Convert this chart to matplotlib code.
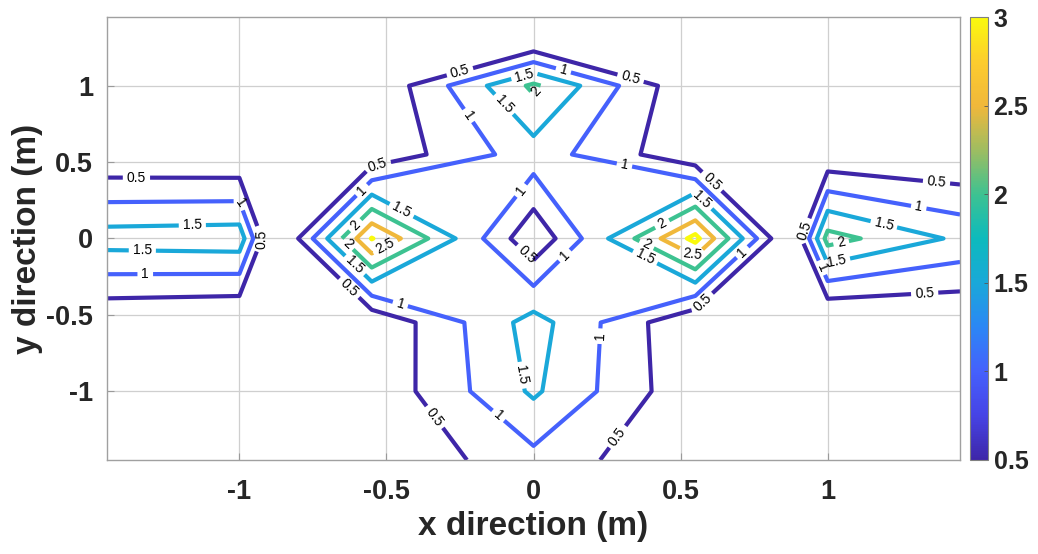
import numpy as np
import matplotlib
matplotlib.use("Agg")
import matplotlib.pyplot as plt
from matplotlib.colors import LinearSegmentedColormap, Normalize
from matplotlib.cm import ScalarMappable

# measurement grid (m)
x_pos = [-1.45, -1.0, -0.9, -0.82, -0.55, 0.0, 0.55, 0.82, 0.9, 1.0, 1.45]
y_pos = [-1.45, -1.0, -0.55, 0.0, 0.55, 1.0, 1.45]

# field values, one row per y position
row_y_m145 = [-0.3, -0.3, -0.3, -0.3, 0.0, 0.85, 0.0, -0.3, -0.3, -0.3, -0.3]
row_y_m100 = [-0.2, -0.2, -0.2, -0.2, 0.1, 1.58, 0.1, -0.2, -0.2, -0.2, -0.2]
row_y_m055 = [0.0, -0.1, -0.2, -0.2, 0.05, 1.71, 0.0, -0.2, -0.2, -0.17, -0.03]
row_y_000 = [1.74, 1.8, 0.1, 0.3, 3.03, 0.08, 3.16, 0.38, 0.3, 2.2, 1.4]
row_y_055 = [0.03, 0.0, -0.1, -0.1, 0.1, 1.28, 0.1, -0.1, -0.1, 0.07, 0.0]
row_y_100 = [-0.2, -0.2, -0.2, -0.2, 0.02, 2.1, 0.02, -0.2, -0.2, -0.2, -0.2]
row_y_145 = [-0.5, -0.5, -0.5, -0.5, -0.5, -1.1, -0.5, -0.5, -0.5, -0.5, -0.5]

levels = [0.5, 1, 1.5, 2, 2.5, 3]
ticks = [-1, -0.5, 0, 0.5, 1]

# spots where the contour values are written
label_spots = [
    (-0.25, 1.09), (0.33, 1.05), (0.10, 1.09), (-0.03, 1.06), (0.007, 0.97),
    (-0.105, 0.87), (-0.225, 0.80), (-0.53, 0.48), (-0.58, 0.31), (-0.45, 0.18),
    (-0.605, 0.085), (-0.63, -0.03), (-0.51, -0.03), (-0.61, -0.18), (-0.63, -0.33),
    (-0.45, -0.41), (-0.33, -1.16), (-0.12, -1.16), (-0.055, -0.90), (-0.04, 0.31),
    (-0.02, -0.10), (0.60, 0.36), (0.31, 0.49), (0.57, 0.25), (0.44, 0.085),
    (0.39, -0.02), (0.38, -0.12), (0.545, -0.08), (0.71, -0.09), (0.57, -0.41),
    (0.23, -0.64), (0.28, -1.29), (0.11, -0.12),
    (-1.35, 0.39), (-1.0, 0.23), (-1.16, 0.085), (-1.33, -0.08), (-1.32, -0.23),
    (-0.90, -0.02),
    (1.37, 0.37), (1.31, 0.21), (1.19, 0.085), (1.045, -0.02), (1.03, -0.14),
    (0.97, -0.20), (1.33, -0.37), (0.90, 0.065),
]

parula = LinearSegmentedColormap.from_list("parula", [
    (0.0, (0.2422, 0.1504, 0.6603)),
    (0.1, (0.2760, 0.2650, 0.9000)),
    (0.2, (0.2700, 0.3800, 0.9900)),
    (0.3, (0.1700, 0.5300, 0.9600)),
    (0.4, (0.1000, 0.6600, 0.8500)),
    (0.5, (0.0500, 0.7300, 0.7400)),
    (0.6, (0.2400, 0.7600, 0.5700)),
    (0.7, (0.6200, 0.7400, 0.3800)),
    (0.8, (0.9400, 0.7200, 0.2300)),
    (0.9, (0.9900, 0.8000, 0.1800)),
    (1.0, (0.9800, 0.9800, 0.0500)),
])
norm = Normalize(vmin=0.5, vmax=3)

X, Y = np.meshgrid(x_pos, y_pos)
Z = np.array([row_y_m145, row_y_m100, row_y_m055, row_y_000,
              row_y_055, row_y_100, row_y_145])

plt.rcParams['font.family'] = ['Liberation Sans', 'DejaVu Sans']

fig = plt.figure(figsize=(10.38, 5.54), dpi=100)
ax = fig.add_axes([0.1031, 0.1697, 0.8218, 0.7996])
ax.set_axisbelow(True)
ax.grid(True, color='#cfcfcf', linewidth=0.9)

cs = ax.contour(X, Y, Z, levels=levels, cmap=parula, norm=norm, linewidths=3)
ax.clabel(cs, manual=label_spots, inline=True, inline_spacing=4,
          fmt='%g', fontsize=10, colors='k')

ax.set_xlim(-1.45, 1.45)
ax.set_ylim(-1.45, 1.45)
ax.set_xticks(ticks)
ax.set_yticks(ticks)
ax.set_xticklabels(['%g' % t for t in ticks])
ax.set_yticklabels(['%g' % t for t in ticks])
ax.tick_params(direction='in', length=5, width=0.8, color='#9a9a9a',
               labelsize=19.5, labelcolor='#262626')
ax.tick_params(axis='x', pad=14)
ax.tick_params(axis='y', pad=10)
for lab in ax.get_xticklabels() + ax.get_yticklabels():
    lab.set_fontweight('bold')
for sp in ax.spines.values():
    sp.set_color('#a0a0a0')
    sp.set_linewidth(1.0)

ax.set_xlabel('x direction (m)', fontsize=24, fontweight='bold', color='#262626', labelpad=4)
ax.set_ylabel('y direction (m)', fontsize=24, fontweight='bold', color='#262626', labelpad=2)

cax = fig.add_axes([0.9345, 0.1697, 0.0173, 0.7996])
cb = fig.colorbar(ScalarMappable(norm=norm, cmap=parula), cax=cax, ticks=levels)
cb.ax.set_yticklabels(['%g' % v for v in levels])
cb.ax.tick_params(direction='in', length=3, width=0.6, color='#555555',
                  labelsize=18, labelcolor='#262626', pad=4)
for lab in cb.ax.get_yticklabels():
    lab.set_fontweight('bold')
cb.outline.set_edgecolor('#808080')
cb.outline.set_linewidth(0.8)

fig.savefig('out.png', dpi=100)
